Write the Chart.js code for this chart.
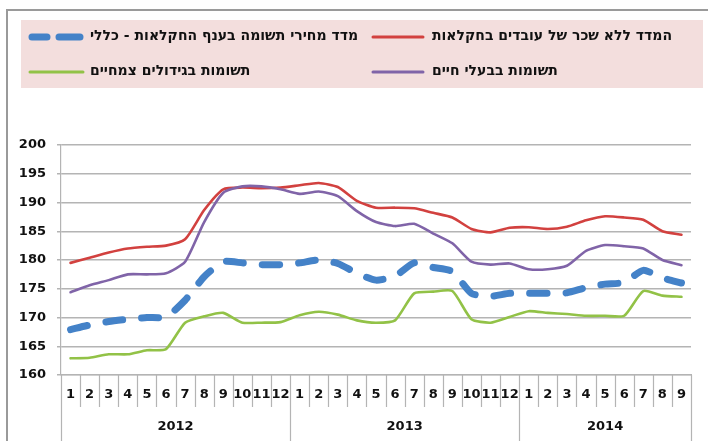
<!DOCTYPE html>
<html>
<head>
<meta charset="utf-8">
<script src="https://cdn.jsdelivr.net/npm/chart.js@4.4.0/dist/chart.umd.min.js"></script>
<style>
  body { margin: 0; background: #fff; }
  #wrap { position: relative; width: 708px; height: 441px; }
  canvas { display: block; }
  .lg {
    position: absolute; height: 20px; line-height: 20px; white-space: nowrap;
    font: bold 14px "DejaVu Sans"; color: #111; direction: rtl;
  }
</style>
</head>
<body>
<div id="wrap">
  <canvas id="chart" width="708" height="441"></canvas>
  <div class="lg" id="lgTotal" style="left:90px; top:27px"></div>
  <div class="lg" id="lgNoWages" style="left:432px; top:27px"></div>
  <div class="lg" id="lgCrops" style="left:90px; top:62px"></div>
  <div class="lg" id="lgLivestock" style="left:432px; top:62px"></div>
</div>
<script>
const months = ['1','2','3','4','5','6','7','8','9','10','11','12',
                '1','2','3','4','5','6','7','8','9','10','11','12',
                '1','2','3','4','5','6','7','8','9'];
const years = ['2012', '2013', '2014'];
const yearLengths = [12, 12, 9];

const totalIndex = [167.9, 168.7, 169.3, 169.7, 170.0, 170.1, 173.0, 177.1, 179.7, 179.5, 179.2, 179.2,
                    179.5, 180.0, 179.4, 177.7, 176.5, 177.2, 179.5, 178.7, 178.0, 174.2, 173.7, 174.2,
                    174.2, 174.2, 174.3, 175.2, 175.8, 176.1, 178.2, 176.9, 176.0];
const noWagesIndex = [179.5, 180.4, 181.3, 182.0, 182.3, 182.5, 183.6, 188.7, 192.3, 192.6, 192.5, 192.6,
                      193.0, 193.4, 192.7, 190.3, 189.1, 189.1, 189.0, 188.2, 187.4, 185.4, 184.8, 185.6,
                      185.7, 185.4, 185.8, 186.9, 187.6, 187.4, 187.0, 185.0, 184.4];
const livestock = [174.4, 175.6, 176.5, 177.5, 177.5, 177.7, 179.7, 186.6, 191.7, 192.8, 192.8, 192.3,
                   191.5, 191.9, 191.1, 188.5, 186.6, 185.9, 186.3, 184.6, 182.9, 179.7, 179.2, 179.4,
                   178.4, 178.4, 179.0, 181.6, 182.6, 182.4, 182.0, 180.0, 179.1];
const crops = [162.9, 163.0, 163.6, 163.6, 164.3, 164.5, 169.1, 170.2, 170.8, 169.1, 169.1, 169.2,
               170.4, 171.0, 170.5, 169.5, 169.1, 169.5, 174.2, 174.5, 174.6, 169.7, 169.1, 170.1,
               171.1, 170.8, 170.6, 170.3, 170.3, 170.3, 174.6, 173.8, 173.6];

const labelTotal = 'מדד מחירי תשומה בענף החקלאות - כללי';
const labelNoWages = 'המדד ללא שכר של עובדים בחקלאות';
const labelLivestock = 'תשומות בבעלי חיים';
const labelCrops = 'תשומות בגידולים צמחיים';

document.getElementById('lgTotal').textContent = labelTotal;
document.getElementById('lgNoWages').textContent = labelNoWages;
document.getElementById('lgCrops').textContent = labelCrops;
document.getElementById('lgLivestock').textContent = labelLivestock;

const BLUE = '#4482c8', RED = '#d2413f', PURPLE = '#8064a8', GREEN = '#92c247';
const GRID = '#b4b4b4';
const FONT = 'DejaVu Sans';

// frame, pink legend box + line samples, month separators and year row
const decor = {
  id: 'decor',
  beforeDraw(chart) {
    const ctx = chart.ctx;
    ctx.save();
    ctx.fillStyle = '#fff';
    ctx.fillRect(0, 0, chart.width, chart.height);
    ctx.strokeStyle = '#9a9a9a';
    ctx.lineWidth = 2;
    ctx.beginPath();
    ctx.moveTo(7, 441); ctx.lineTo(7, 10); ctx.lineTo(708, 10);
    ctx.stroke();

    ctx.fillStyle = '#f3dedd';
    ctx.fillRect(21, 20, 682, 68);

    const sample = (x1, x2, y, color, dashed) => {
      ctx.strokeStyle = color;
      ctx.lineCap = 'round';
      ctx.beginPath();
      if (dashed) {
        ctx.lineWidth = 7;
        ctx.moveTo(32, y); ctx.lineTo(47, y);
        ctx.moveTo(59, y); ctx.lineTo(80, y);
      } else {
        ctx.lineWidth = 3;
        ctx.moveTo(x1, y); ctx.lineTo(x2, y);
      }
      ctx.stroke();
    };
    sample(29, 83, 37, BLUE, true);
    sample(373, 423, 37, RED, false);
    sample(30, 83, 72, GREEN, false);
    sample(373, 423, 72, PURPLE, false);
    ctx.restore();
  },
  afterDraw(chart) {
    const ctx = chart.ctx;
    const x = chart.scales.x;
    const area = chart.chartArea;
    const step = x.getPixelForValue(1) - x.getPixelForValue(0);
    ctx.save();
    ctx.strokeStyle = GRID;
    ctx.lineWidth = 1.2;
    ctx.beginPath();
    let idx = 0;
    const yearBreaks = [0];
    yearLengths.forEach(n => { idx += n; yearBreaks.push(idx); });
    for (let i = 0; i <= months.length; i++) {
      const px = Math.round(x.getPixelForValue(i) - step / 2) + 0.5;
      const long = yearBreaks.includes(i);
      ctx.moveTo(px, area.bottom);
      ctx.lineTo(px, long ? 441 : area.bottom + 32);
    }
    ctx.stroke();

    ctx.fillStyle = '#111';
    ctx.font = 'bold 13px "' + FONT + '"';
    ctx.textAlign = 'center';
    ctx.textBaseline = 'middle';
    years.forEach((yr, k) => {
      const a = x.getPixelForValue(yearBreaks[k]) - step / 2;
      const b = x.getPixelForValue(yearBreaks[k + 1]) - step / 2;
      ctx.fillText(yr, (a + b) / 2, 427);
    });
    ctx.restore();
  }
};

const line = (label, data, color, width, dash) => ({
  label, data,
  borderColor: color,
  backgroundColor: color,
  borderWidth: width,
  borderDash: dash || [],
  borderCapStyle: 'round',
  borderJoinStyle: 'round',
  pointRadius: 0,
  tension: 0.2,
  fill: false
});

new Chart(document.getElementById('chart'), {
  type: 'line',
  data: {
    labels: months,
    datasets: [
      line(labelTotal, totalIndex, BLUE, 7, [17, 19]),
      line(labelLivestock, livestock, PURPLE, 2.6),
      line(labelNoWages, noWagesIndex, RED, 2.6),
      line(labelCrops, crops, GREEN, 2.6)
    ]
  },
  options: {
    responsive: false,
    animation: false,
    layout: { padding: { top: 145, right: 17, left: 0, bottom: 0 } },
    plugins: { legend: { display: false }, tooltip: { enabled: false } },
    scales: {
      x: {
        offset: true,
        grid: { display: false, drawTicks: false },
        border: { display: true, color: GRID, width: 1.2 },
        ticks: {
          autoSkip: false, maxRotation: 0, padding: 12,
          color: '#111', font: { family: FONT, size: 13, weight: 'bold' }
        },
        afterFit(scale) { scale.height = 66; }
      },
      y: {
        min: 160, max: 200,
        grid: { color: GRID, lineWidth: 1.5, tickLength: 4 },
        border: { display: true, color: GRID, width: 1.2 },
        ticks: {
          stepSize: 5, padding: 11,
          color: '#111', font: { family: FONT, size: 13, weight: 'bold' }
        },
        afterFit(scale) { scale.width = 61; }
      }
    }
  },
  plugins: [decor]
});
</script>
</body>
</html>
